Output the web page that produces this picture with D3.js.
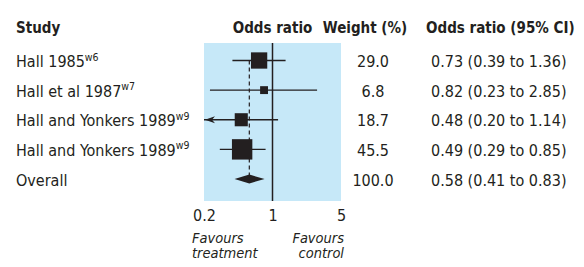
<!DOCTYPE html>
<html>
<head>
<meta charset="utf-8">
<script src="https://cdn.jsdelivr.net/npm/d3@7"></script>
<style>
    body { margin: 0; background: #fff; }
    text { font-family: "DejaVu Sans Condensed", "Liberation Sans Narrow", sans-serif; fill: #231f20; }
</style>
</head>
<body>
<svg id="forest"></svg>
<script>
const studies = ["Hall 1985", "Hall et al 1987", "Hall and Yonkers 1989", "Hall and Yonkers 1989", "Overall"];
const refs = ["w6", "w7", "w9", "w9", ""];
const oddsRatio = [0.73, 0.82, 0.48, 0.49, 0.58];
const ciLow = [0.39, 0.23, 0.2, 0.29, 0.41];
const ciHigh = [1.36, 2.85, 1.14, 0.85, 0.83];
const weights = [29.0, 6.8, 18.7, 45.5, 100.0];
const xTicks = [0.2, 1, 5];

const width = 584,
    height = 267;

const svg = d3
    .select("#forest")
    .attr("width", width)
    .attr("height", height);

const x = d3.scaleLog().domain([0.2, 5]).range([204, 341]);

const y = d3
    .scalePoint()
    .domain(d3.range(studies.length))
    .range([60.5, 179]);

const boxSize = d3.scaleSqrt().domain([0, 45.5]).range([0, 20.4]);

const rows = d3.range(studies.length);
const overall = studies.length - 1;

// shaded panel
svg.append("rect")
    .attr("x", x(0.2))
    .attr("y", 43)
    .attr("width", x(5) - x(0.2))
    .attr("height", 158)
    .attr("fill", "#c6e8f8");

// headers
const header = svg.append("g").attr("font-weight", "bold").attr("font-size", 15);
header.append("text").attr("x", 16).attr("y", 33).text("Study");
header.append("text").attr("x", x(1)).attr("y", 33).attr("text-anchor", "middle").text("Odds ratio");
header.append("text").attr("x", 365).attr("y", 33).attr("text-anchor", "middle").text("Weight (%)");
header.append("text").attr("x", 426).attr("y", 33).text("Odds ratio (95% CI)");

// line of no effect
svg.append("line")
    .attr("x1", x(1))
    .attr("x2", x(1))
    .attr("y1", 43)
    .attr("y2", 201)
    .attr("stroke", "#231f20")
    .attr("stroke-width", 1.5);

// dashed line at the pooled estimate
svg.append("line")
    .attr("x1", x(oddsRatio[overall]))
    .attr("x2", x(oddsRatio[overall]))
    .attr("y1", y(0))
    .attr("y2", y(overall))
    .attr("stroke", "#231f20")
    .attr("stroke-width", 1.2)
    .attr("stroke-dasharray", "4,3");

const studyRows = rows.filter(i => i !== overall);

// confidence intervals
svg.append("g")
    .selectAll("line")
    .data(studyRows)
    .enter()
    .append("line")
    .attr("x1", i => x(Math.max(ciLow[i], 0.2)))
    .attr("x2", i => x(Math.min(ciHigh[i], 5)))
    .attr("y1", i => y(i))
    .attr("y2", i => y(i))
    .attr("stroke", "#231f20")
    .attr("stroke-width", 1.3);

// arrows where the interval runs off the left edge
svg.append("g")
    .selectAll("path")
    .data(studyRows.filter(i => ciLow[i] <= 0.2))
    .enter()
    .append("path")
    .attr("d", i => {
        const tx = x(0.2) + 1,
            ty = y(i);
        return `M${tx},${ty} L${tx + 10},${ty - 3.5} L${tx + 7},${ty} L${tx + 10},${ty + 3.5} Z`;
    })
    .attr("fill", "#231f20");

// weight boxes
svg.append("g")
    .selectAll("rect")
    .data(studyRows)
    .enter()
    .append("rect")
    .attr("x", i => x(oddsRatio[i]) - boxSize(weights[i]) / 2)
    .attr("y", i => y(i) - boxSize(weights[i]) / 2)
    .attr("width", i => boxSize(weights[i]))
    .attr("height", i => boxSize(weights[i]))
    .attr("fill", "#231f20");

// pooled diamond
svg.append("path")
    .attr("d", () => {
        const cy = y(overall);
        return `M${x(ciLow[overall])},${cy} L${x(oddsRatio[overall])},${cy - 4.5} L${x(ciHigh[overall])},${cy} L${x(oddsRatio[overall])},${cy + 4.5} Z`;
    })
    .attr("fill", "#231f20");

// study labels
const labels = svg.append("g").attr("font-size", 16);
rows.forEach(i => {
    const t = labels.append("text").attr("x", 16).attr("y", y(i) + 6.5);
    t.append("tspan").text(studies[i]);
    if (refs[i]) {
        t.append("tspan")
            .attr("font-size", 10.5)
            .attr("dy", -6.5)
            .text(refs[i]);
    }
});

// weights
svg.append("g")
    .attr("font-size", 16)
    .selectAll("text")
    .data(rows)
    .enter()
    .append("text")
    .attr("x", 373)
    .attr("y", i => y(i) + 6.5)
    .attr("text-anchor", "middle")
    .text(i => weights[i].toFixed(1));

// odds ratios with intervals
svg.append("g")
    .attr("font-size", 16)
    .selectAll("text")
    .data(rows)
    .enter()
    .append("text")
    .attr("x", 431)
    .attr("y", i => y(i) + 6.5)
    .text(i => `${oddsRatio[i].toFixed(2)} (${ciLow[i].toFixed(2)} to ${ciHigh[i].toFixed(2)})`);

// axis labels
const axis = d3
    .axisBottom(x)
    .tickValues(xTicks)
    .tickSize(0)
    .tickPadding(0)
    .tickFormat(d3.format("~g"));

svg.append("g")
    .attr("transform", "translate(0,210)")
    .call(axis)
    .call(g => g.select(".domain").remove())
    .call(g =>
        g.selectAll("text")
            .attr("font-size", 16)
            .attr("font-family", null)
            .attr("fill", null)
    );

// two-line captions under the axis
const favours = svg.append("g").attr("font-size", 14.5).attr("font-style", "italic");
[
    { x: 192, anchor: "start", lines: ["Favours", "treatment"] },
    { x: 344, anchor: "end", lines: ["Favours", "control"] }
].forEach(c => {
    const t = favours.append("text").attr("y", 243).attr("text-anchor", c.anchor);
    c.lines.forEach((s, k) => {
        t.append("tspan").attr("x", c.x).attr("dy", k ? 15 : 0).text(s);
    });
});
</script>
</body>
</html>
